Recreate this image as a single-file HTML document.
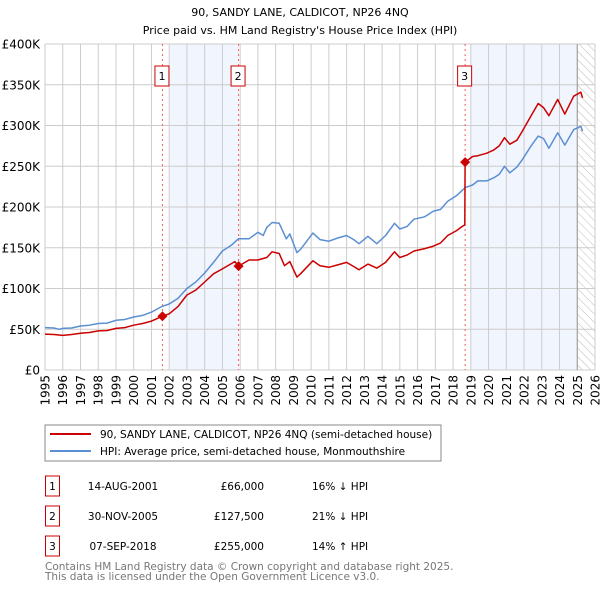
<!DOCTYPE html>
<html><head><meta charset="utf-8"><style>
body{margin:0;background:#fff;font-family:"DejaVu Sans","Liberation Sans",sans-serif;}
svg text{font-family:"DejaVu Sans","Liberation Sans",sans-serif;}
</style></head><body>
<svg id="c" width="600" height="590" xmlns="http://www.w3.org/2000/svg">
<defs><pattern id="hatch" width="6" height="6" patternUnits="userSpaceOnUse" patternTransform="rotate(-45)"><line x1="0" y1="0" x2="0" y2="6" stroke="#bbb" stroke-width="1"/></pattern></defs>
<text x="300" y="16" text-anchor="middle" font-size="11" fill="#000">90, SANDY LANE, CALDICOT, NP26 4NQ</text>
<text x="300" y="34" text-anchor="middle" font-size="11" fill="#000">Price paid vs. HM Land Registry's House Price Index (HPI)</text>
<g id="plot"></g>
<rect x="45" y="425" width="396" height="36" fill="#fff" stroke="#888"/>
<line x1="50" y1="434" x2="91" y2="434" stroke="#cc0000" stroke-width="2"/>
<text x="100" y="438" font-size="10.5">90, SANDY LANE, CALDICOT, NP26 4NQ (semi-detached house)</text>
<line x1="50" y1="451" x2="91" y2="451" stroke="#5b8fd4" stroke-width="2"/>
<text x="100" y="455" font-size="10.5">HPI: Average price, semi-detached house, Monmouthshire</text>
<g id="table" font-size="10.5"></g>
<text x="45" y="570" font-size="10.5" fill="#777">Contains HM Land Registry data © Crown copyright and database right 2025.</text>
<text x="45" y="580" font-size="10.5" fill="#777">This data is licensed under the Open Government Licence v3.0.</text>
</svg>
<script>
const hpiDates=[1995.0,1995.5,1995.8,1996.0,1996.5,1997.0,1997.5,1998.0,1998.5,1999.0,1999.5,2000.0,2000.5,2001.0,2001.6,2002.0,2002.5,2003.0,2003.5,2004.0,2004.5,2005.0,2005.5,2005.9,2006.5,2007.0,2007.3,2007.5,2007.8,2008.2,2008.6,2008.8,2009.2,2009.4,2010.1,2010.5,2011.0,2011.5,2012.0,2012.4,2012.7,2013.2,2013.7,2014.2,2014.7,2015.0,2015.4,2015.8,2016.4,2016.9,2017.3,2017.7,2018.2,2018.5,2018.7,2019.1,2019.4,2019.9,2020.3,2020.6,2020.9,2021.2,2021.6,2021.9,2022.4,2022.8,2023.1,2023.4,2023.9,2024.3,2024.8,2025.2,2025.3];
const hpiValues=[52000,51500,50000,51000,51500,54000,55000,57000,57500,61000,62000,65000,67000,71000,78000,81000,88000,100000,108000,119000,132000,146000,153000,161000,161000,169000,165000,175000,181000,180000,161000,167000,144000,148000,168000,160000,158000,162000,165000,160000,155000,164000,155000,165000,180000,173000,176000,185000,188000,195000,197000,207000,214000,220000,224000,227000,232000,232000,236000,240000,250000,242000,249000,258000,275000,287000,284000,272000,291000,276000,295000,299000,293000];
const ppDates=[1995.0,1995.5,1996.0,1996.5,1997.0,1997.5,1998.0,1998.5,1999.0,1999.5,2000.0,2000.5,2001.0,2001.62,2002.0,2002.5,2003.0,2003.5,2004.0,2004.5,2005.0,2005.7,2005.91,2006.5,2007.0,2007.5,2007.8,2008.2,2008.5,2008.8,2009.2,2009.4,2010.1,2010.5,2011.0,2011.5,2012.0,2012.4,2012.7,2013.2,2013.7,2014.2,2014.7,2015.0,2015.4,2015.8,2016.4,2016.9,2017.3,2017.7,2018.2,2018.5,2018.66,2018.68,2019.1,2019.4,2019.9,2020.3,2020.6,2020.9,2021.2,2021.6,2021.9,2022.4,2022.8,2023.1,2023.4,2023.9,2024.3,2024.8,2025.2,2025.3];
const ppValues=[44000,43500,42500,43500,45000,46000,48000,48500,51000,52000,55000,57000,60000,66000,69000,78000,92000,98000,108000,118000,124000,133000,127500,135000,135000,138000,145000,143000,128000,133000,114000,118000,134000,128000,126000,129000,132000,127000,123000,130000,125000,132000,145000,138000,141000,146000,149000,152000,156000,165000,171000,176000,178000,255000,262000,263000,266000,270000,275000,285000,277000,282000,293000,312000,327000,322000,312000,332000,314000,336000,341000,334000];
const saleDates=[2001.62,2005.91,2018.68];
const saleValues=[66000,127500,255000];
const saleLabels=["1","2","3"];
const saleDateText=["14-AUG-2001","30-NOV-2005","07-SEP-2018"];
const salePriceText=["£66,000","£127,500","£255,000"];
const saleHpiText=["16% ↓ HPI","21% ↓ HPI","14% ↑ HPI"];
const yTicks=[0,50000,100000,150000,200000,250000,300000,350000,400000];
const yTickLabels=["£0","£50K","£100K","£150K","£200K","£250K","£300K","£350K","£400K"];
const xYears=[1995,1996,1997,1998,1999,2000,2001,2002,2003,2004,2005,2006,2007,2008,2009,2010,2011,2012,2013,2014,2015,2016,2017,2018,2019,2020,2021,2022,2023,2024,2025,2026];

const X0=45,X1=595,Y0=370,Y1=44;
const xs=y=>X0+(y-1995)/(2026-1995)*(X1-X0);
const ys=v=>Y0-v/400000*(Y0-Y1);
const NS="http://www.w3.org/2000/svg";
const g=document.getElementById('plot');
function mk(tag,attrs,parent){const e=document.createElementNS(NS,tag);for(const k in attrs)e.setAttribute(k,attrs[k]);(parent||g).appendChild(e);return e;}

let e;
e=mk('rect',{x:X0,y:Y1,width:X1-X0,height:Y0-Y1,fill:'#fff'});


e=mk('rect',{x:xs(2002.05),y:Y1,width:xs(2005.91)-xs(2002.05),height:Y0-Y1,fill:'#eef3fc',opacity:0.8});


e=mk('rect',{x:xs(2019.0),y:Y1,width:xs(2025.0)-xs(2019.0),height:Y0-Y1,fill:'#eef3fc',opacity:0.8});


e=mk('rect',{x:xs(2025.0),y:Y1,width:X1-xs(2025.0),height:Y0-Y1,fill:'url(#hatch)'});



yTicks.forEach((t,i)=>{
  e=mk('line',{x1:X0,x2:X1,y1:ys(t),y2:ys(t),stroke:'#ccc','stroke-width':1});
  
  
  e=mk('text',{x:40,y:ys(t)+4.5,'text-anchor':'end','font-size':12});
  e.textContent=yTickLabels[i];
  
  
});
xYears.forEach(yr=>{
  e=mk('line',{x1:xs(yr),x2:xs(yr),y1:Y1,y2:Y0,stroke:'#ccc','stroke-width':1});
  
  
  const x=xs(yr)+4.5;
  e=mk('text',{x:x,y:375,'text-anchor':'end','font-size':12,transform:`rotate(-90 ${x} 375)`});
  e.textContent=yr;
  
  
});
e=mk('line',{x1:xs(2025.0),x2:xs(2025.0),y1:Y1,y2:Y0,stroke:'#999','stroke-width':1});



saleDates.forEach((d,i)=>{
  e=mk('line',{x1:xs(d),x2:xs(d),y1:Y1,y2:Y0,stroke:'#f06060','stroke-width':1,'stroke-dasharray':'2,3'});
  
  
  e=mk('rect',{x:xs(d)-7.5,y:66,width:14,height:20,fill:'#fff',stroke:'#cc0000'});
  
  
  e=mk('text',{x:xs(d)-0.5,y:80,'text-anchor':'middle','font-size':11});
  e.textContent=saleLabels[i];
  
  
});

const pts=(ds,vs)=>ds.map((d,i)=>xs(d).toFixed(1)+','+ys(vs[i]).toFixed(1)).join(' ');
e=mk('polyline',{points:pts(hpiDates,hpiValues),fill:'none',stroke:'#5b8fd4','stroke-width':1.5,'stroke-linejoin':'round'});


e=mk('polyline',{points:pts(ppDates,ppValues),fill:'none',stroke:'#cc0000','stroke-width':1.5,'stroke-linejoin':'round'});


saleDates.forEach((d,i)=>{
  const x=xs(d),y=ys(saleValues[i]);
  e=mk('polygon',{points:`${x},${y-5} ${x+5},${y} ${x},${y+5} ${x-5},${y}`,fill:'#cc0000'});
  
  
});

const t=document.getElementById('table');
saleDates.forEach((d,i)=>{
  const y=476+i*30;
  e=mk('rect',{x:45.5,y:y,width:14,height:20,fill:'#fff',stroke:'#cc0000'},t);
  
  
  e=mk('text',{x:52.5,y:y+14,'text-anchor':'middle'},t);
  e.textContent=saleLabels[i];
  
  
  e=mk('text',{x:123,y:y+14,'text-anchor':'middle'},t);
  e.textContent=saleDateText[i];
  
  
  e=mk('text',{x:264,y:y+14,'text-anchor':'end'},t);
  e.textContent=salePriceText[i];
  
  
  e=mk('text',{x:312,y:y+14},t);
  e.textContent=saleHpiText[i];
  
  
});
</script>
</body></html>
